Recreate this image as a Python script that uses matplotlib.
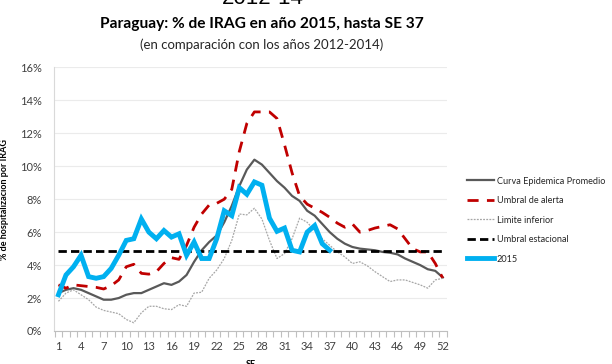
import numpy as np
import matplotlib
matplotlib.use('Agg')
import matplotlib.pyplot as plt

plt.rcParams['font.family'] = ['Lato', 'DejaVu Sans']

# semanas epidemiologicas
semanas = list(range(1, 53))

# curva epidemica promedio 2012-2014 (%)
promedio = [2.3, 2.5, 2.6, 2.5, 2.3, 2.1, 1.9, 1.9, 2.0, 2.2,
            2.3, 2.3, 2.5, 2.7, 2.9, 2.8, 3.0, 3.4, 4.2, 4.9,
            5.4, 5.8, 6.6, 7.6, 8.8, 9.8, 10.4, 10.1, 9.6, 9.1,
            8.7, 8.2, 7.9, 7.3, 7.0, 6.5, 6.0, 5.6, 5.3, 5.1,
            5.0, 4.95, 4.9, 4.8, 4.75, 4.65, 4.4, 4.2, 4.0, 3.75,
            3.65, 3.25]

# umbral de alerta (%)
alerta = [2.8, 2.6, 2.8, 2.75, 2.7, 2.65, 2.55, 2.75, 3.1, 3.9,
          4.05, 3.5, 3.45, 3.6, 4.1, 4.45, 4.35, 5.2, 6.3, 7.1,
          7.65, 7.75, 8.0, 8.6, 10.9, 12.6, 13.3, 13.3, 13.3, 12.9,
          11.3, 9.6, 8.2, 7.7, 7.45, 7.2, 6.9, 6.55, 6.3, 6.5,
          6.0, 6.1, 6.25, 6.35, 6.45, 6.2, 5.6, 5.0, 4.8, 4.8,
          4.1, 3.2]

# limite inferior (%)
inferior = [1.8, 2.3, 2.5, 2.2, 1.9, 1.45, 1.25, 1.15, 1.05, 0.7,
            0.5, 1.1, 1.5, 1.5, 1.35, 1.3, 1.6, 1.5, 2.3, 2.35,
            3.2, 3.7, 4.4, 5.5, 7.1, 7.05, 7.45, 6.8, 5.5, 4.4,
            4.7, 5.6, 6.85, 6.6, 6.1, 5.6, 5.2, 4.8, 4.5, 4.1,
            4.2, 3.95, 3.6, 3.3, 3.0, 3.1, 3.1, 2.95, 2.8, 2.6,
            3.1, 3.2]

# umbral estacional (%)
estacional = 4.85

# año 2015 hasta SE 37 (%)
semanas_2015 = list(range(1, 38))
irag_2015 = [2.2, 3.4, 3.9, 4.6, 3.3, 3.2, 3.3, 3.8, 4.6, 5.5,
             5.6, 6.8, 6.0, 5.6, 6.1, 5.7, 5.9, 4.6, 5.4, 4.4,
             4.4, 5.6, 7.3, 7.0, 8.7, 8.3, 9.05, 8.85, 6.85, 6.05,
             6.25, 4.9, 4.8, 6.0, 6.4, 5.3, 4.9]

fig = plt.figure(figsize=(6.12, 3.64), dpi=100)
ax = fig.add_axes([0.0887, 0.0907, 0.641, 0.724])

ax.plot(semanas, promedio, color='#595959', lw=1.6, label='Curva Epidemica Promedio')
ax.plot(semanas, alerta, color='#C00000', lw=2.0, dashes=(4, 3), label='Umbral de alerta')
ax.plot(semanas, inferior, color='#A6A6A6', lw=0.9, dashes=(1.5, 1), label='Limite inferior')
ax.plot(semanas, [estacional] * len(semanas), color='black', lw=2.0, dashes=(3, 1.5),
        label='Umbral estacional')
ax.plot(semanas_2015, irag_2015, color='#00B0F0', lw=3.5, solid_joinstyle='miter',
        label='2015')

ax.set_xlim(0.45, 52.5)
ax.set_ylim(0, 16)
ax.set_yticks(range(0, 17, 2))
ax.set_yticklabels([f'{v}%' for v in range(0, 17, 2)])
ax.set_xticks(range(1, 53, 3))
ax.set_xticks(np.arange(0.5, 53, 1), minor=True)
ax.tick_params(axis='x', which='major', length=0, pad=7, labelsize=8, labelcolor='#404040')
ax.tick_params(axis='x', which='minor', length=4, color='#BFBFBF', width=0.8)
ax.tick_params(axis='y', length=0, pad=9, labelsize=8, labelcolor='#404040')
ax.yaxis.grid(True, color='#EBEBEB', lw=0.8)
ax.set_axisbelow(True)
for side in ['top', 'right']:
    ax.spines[side].set_visible(False)
ax.spines['left'].set_color('#D9D9D9')
ax.spines['bottom'].set_color('#BFBFBF')

ax.set_ylabel('% de hospitalizacion por IRAG', fontsize=6.5, fontweight='bold', labelpad=8)
ax.set_xlabel('SE', fontsize=6.5, fontweight='bold', labelpad=6)

ax.legend(loc='upper left', bbox_to_anchor=(1.042, 0.6), frameon=False, fontsize=6.6,
          handlelength=3.0, handletextpad=0.3, labelspacing=1.15, borderaxespad=0,
          labelcolor='#262626')

# resto del titulo anterior, cortado en el borde superior
fig.text(0.43, 0.988, '2012-14', ha='center', va='baseline', fontsize=16,
         family=['Liberation Sans', 'DejaVu Sans'])
fig.text(0.428, 0.935, 'Paraguay: % de IRAG en año 2015, hasta SE 37', ha='center',
         va='center', fontsize=11.2, fontweight='bold')
fig.text(0.428, 0.877, '(en comparación con los años 2012-2014)', ha='center',
         va='center', fontsize=9.5, color='#262626')

fig.savefig('out.png', dpi=100)
